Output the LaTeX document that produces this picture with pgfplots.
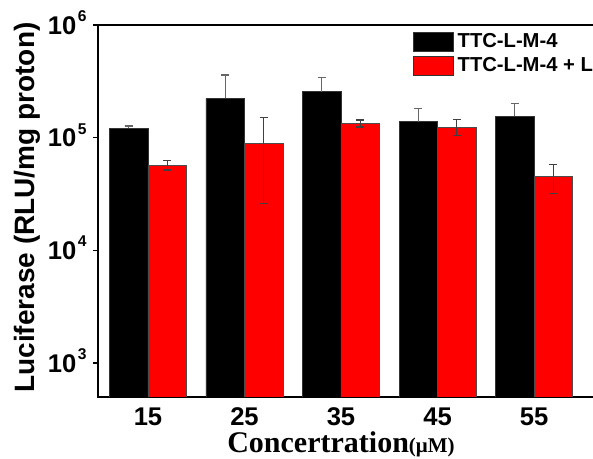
\documentclass[border=0pt]{standalone}
\usepackage{fontspec}
\setmainfont{Liberation Sans}
\newfontfamily\serifbf{Liberation Serif}
\usepackage{pgfplots}
\pgfplotsset{compat=1.18}
% power-of-ten tick label: bold mantissa with a small raised exponent
\newcommand{\decade}[1]{10\kern0.8pt\raisebox{6.3pt}{\fontsize{7.8}{8}\selectfont #1}}
\begin{document}
\begin{tikzpicture}
% visible region of the figure; the right side of the frame falls outside it
\path[use as bounding box, clip] (0,0) rectangle (296.5pt,229.5pt);
\begin{axis}[
  at={(49pt,31pt)}, anchor=south west,
  scale only axis, width=251pt, height=186pt,
  ymode=log, log basis y=10,
  ymin=500, ymax=1e6,
  xmin=-0.518, xmax=4.684,
  ybar=0pt, bar width=19.25pt,
  axis line style={line width=0.9pt},
  tick align=outside,
  ytick pos=left,
  major tick length=2.5pt, minor tick length=1.6pt,
  every tick/.style={black, line width=0.6pt},
  ytick={1000,10000,100000,1000000},
  yticklabels={\decade{3},\decade{4},\decade{5},\decade{6}},
  xtick={0,1,2,3,4},
  xticklabels={15,25,35,45,55},
  xtick style={draw=none},
  ticklabel style={font=\bfseries\fontsize{12.8}{14}\selectfont},
  yticklabel style={anchor=base east, inner sep=0pt, yshift=-4.6pt, xshift=-3pt},
  xticklabel style={anchor=base, inner sep=0pt, yshift=-12pt},
  ylabel={Luciferase (RLU/mg proton)},
  ylabel style={at={(axis description cs:-0.1414,0.509)}, anchor=center, rotate=0,
    font=\bfseries\fontsize{14}{16}\selectfont},
  xlabel={\serifbf\bfseries Concertration{\fontsize{10.5}{12}\selectfont(μM)}},
  xlabel style={at={(axis description cs:0.484,-0.148)}, anchor=base,
    font=\fontsize{15}{17}\selectfont},
  legend style={draw=none, fill=none, at={(axis description cs:0.626,0.99)},
    anchor=north west, font=\bfseries\fontsize{10.1}{12}\selectfont,
    row sep=-0.4pt, inner sep=0pt},
  legend cell align=left,
]
\addplot[fill=black, draw=black!80, line width=0.4pt,
  legend image code/.code={\draw[fill=black, draw=black!80, line width=0.5pt] (0pt,-4.75pt) rectangle (20pt,4.75pt);},
  error bars/.cd, y dir=plus, y explicit,
  error bar style={black!60, line width=0.6pt},
  error mark options={rotate=90, mark size=2pt, black!60, line width=0.6pt}]
  coordinates {
    (0,1.21e5) +- (0,6.0e3)
    (1,2.23e5) +- (0,1.37e5)
    (2,2.56e5) +- (0,8.8e4)
    (3,1.39e5) +- (0,4.3e4)
    (4,1.55e5) +- (0,4.5e4)
  };
\addlegendentry{TTC-L-M-4}
\addplot[fill=red, draw=black!70, line width=0.4pt,
  legend image code/.code={\draw[fill=red, draw=black!80, line width=0.5pt] (0pt,-4.75pt) rectangle (20pt,4.75pt);},
  error bars/.cd, y dir=both, y explicit,
  error bar style={black!75, line width=0.6pt},
  error mark options={rotate=90, mark size=2pt, black!75, line width=0.6pt}]
  coordinates {
    (0,5.7e4) +- (0,5.3e3)
    (1,8.9e4) +- (0,6.3e4)
    (2,1.34e5) +- (0,9.5e3)
    (3,1.24e5) +- (0,2.0e4)
    (4,4.5e4) +- (0,1.28e4)
  };
\addlegendentry{TTC-L-M-4 + L}
\end{axis}
\end{tikzpicture}
\end{document}
